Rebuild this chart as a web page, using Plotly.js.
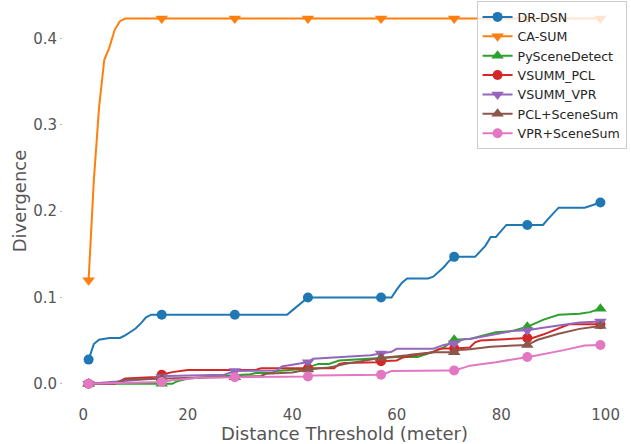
<!DOCTYPE html>
<html>
<head>
<meta charset="utf-8">
<script src="https://cdn.plot.ly/plotly-3.0.1.min.js"></script>
<style>html,body{margin:0;padding:0;background:#fff;}#chart{width:631px;height:444px;}</style>
</head>
<body>
<div id="chart"></div>
<script>
// Marker positions (every 14th threshold)
const markX = [1, 15, 29, 43, 57, 71, 85, 99];

const seriesNames = ["DR-DSN", "CA-SUM", "PySceneDetect", "VSUMM_PCL", "VSUMM_VPR", "PCL+SceneSum", "VPR+SceneSum"];

const drdsnX = [1, 2, 3, 5, 7, 8, 9, 10, 11, 12, 13, 15, 29, 39, 40, 41, 42, 43, 57, 59, 60, 61, 62, 66, 67, 68, 69, 70, 71, 75, 76, 77, 78, 79, 80, 81, 85, 88, 89, 90, 91, 96, 99];
const drdsnY = [0.028, 0.046, 0.051, 0.053, 0.053, 0.056, 0.060, 0.064, 0.070, 0.077, 0.080, 0.080, 0.080, 0.080, 0.085, 0.090, 0.096, 0.100, 0.100, 0.100, 0.109, 0.117, 0.122, 0.122, 0.124, 0.129, 0.135, 0.142, 0.147, 0.147, 0.153, 0.160, 0.170, 0.170, 0.177, 0.184, 0.184, 0.184, 0.191, 0.198, 0.204, 0.204, 0.210];

const casumX = [1, 2, 3, 4, 5, 6, 7, 8, 15, 29, 43, 57, 71, 85, 99];
const casumY = [0.120, 0.235, 0.320, 0.375, 0.390, 0.410, 0.420, 0.423, 0.423, 0.423, 0.423, 0.423, 0.423, 0.423, 0.423];

const pysdX = [1, 15, 17, 18, 20, 29, 32, 33, 36, 37, 42, 43, 45, 47, 49, 57, 60, 64, 66, 69, 70, 71, 74, 76, 79, 82, 85, 88, 91, 95, 97, 99];
const pysdY = [0, 0, 0, 0.003, 0.006, 0.010, 0.011, 0.0124, 0.0124, 0.0147, 0.017, 0.019, 0.023, 0.023, 0.027, 0.030, 0.031, 0.031, 0.035, 0.042, 0.047, 0.051, 0.052, 0.055, 0.0596, 0.061, 0.066, 0.074, 0.080, 0.081, 0.083, 0.087];

const pclX = [1, 6, 8, 14, 15, 17, 20, 33, 34, 43, 48, 49, 50, 56, 57, 60, 61, 62, 67, 68, 69, 71, 74, 75, 76, 85, 86, 87, 88, 93, 99];
const pclY = [0, 0, 0.006, 0.008, 0.0105, 0.0135, 0.016, 0.016, 0.018, 0.018, 0.018, 0.023, 0.024, 0.025, 0.026, 0.027, 0.030, 0.0316, 0.0366, 0.040, 0.041, 0.041, 0.042, 0.048, 0.050, 0.053, 0.053, 0.055, 0.057, 0.069, 0.069];

const vprX = [1, 5, 14, 15, 16, 27, 29, 37, 38, 42, 43, 44, 49, 55, 57, 59, 60, 67, 69, 71, 73, 74, 82, 85, 88, 95, 99];
const vprY = [0, 0.002, 0.006, 0.008, 0.009, 0.0105, 0.0147, 0.0155, 0.020, 0.024, 0.025, 0.029, 0.031, 0.033, 0.035, 0.037, 0.0405, 0.0405, 0.045, 0.047, 0.052, 0.052, 0.061, 0.062, 0.065, 0.071, 0.072];

const pclssX = [1, 6, 8, 15, 20, 29, 34, 35, 40, 42, 43, 47, 48, 50, 52, 56, 57, 62, 63, 67, 71, 72, 74, 78, 85, 86, 87, 91, 95, 99];
const pclssY = [0, 0, 0.005, 0.006, 0.007, 0.0077, 0.009, 0.0116, 0.013, 0.0155, 0.0165, 0.019, 0.020, 0.023, 0.025, 0.029, 0.030, 0.033, 0.034, 0.0366, 0.0366, 0.039, 0.040, 0.043, 0.045, 0.048, 0.051, 0.058, 0.0636, 0.067];

const vprssX = [1, 15, 17, 22, 29, 43, 44, 48, 49, 57, 58, 59, 70, 71, 73, 74, 79, 85, 86, 92, 96, 99];
const vprssY = [0, 0.002, 0.004, 0.007, 0.0077, 0.0085, 0.0097, 0.0097, 0.0105, 0.0105, 0.0125, 0.0147, 0.0155, 0.0155, 0.019, 0.021, 0.025, 0.031, 0.032, 0.039, 0.0443, 0.045];

const xs = [drdsnX, casumX, pysdX, pclX, vprX, pclssX, vprssX];
const ys = [drdsnY, casumY, pysdY, pclY, vprY, pclssY, vprssY];
const colors = ["#1f77b4", "#ff7f0e", "#2ca02c", "#d62728", "#9467bd", "#8c564b", "#e377c2"];
const symbols = ["circle", "triangle-down", "triangle-up", "circle", "triangle-down", "triangle-up", "circle"];
const sizes = [10, 11, 11, 10, 11, 11, 10];

const traces = seriesNames.map((name, i) => {
  const sel = [];
  xs[i].forEach((v, j) => { if (markX.includes(v)) sel.push(j); });
  return {
    type: "scatter",
    mode: "lines+markers",
    name: name,
    x: xs[i],
    y: ys[i],
    line: {color: colors[i], width: 2},
    marker: {color: colors[i], symbol: symbols[i], size: sizes[i], line: {width: 0}},
    selectedpoints: sel,
    selected: {marker: {opacity: 1}},
    unselected: {marker: {opacity: 0}},
    cliponaxis: false
  };
});

const layout = {
  width: 631,
  height: 444,
  margin: {l: 63, r: 5, t: 0, b: 42},
  paper_bgcolor: "#ffffff",
  plot_bgcolor: "#ffffff",
  font: {family: "DejaVu Sans", color: "#555555"},
  showlegend: true,
  hovermode: false,
  xaxis: {
    range: [-3.9, 103.9],
    tickvals: [0, 20, 40, 60, 80, 100],
    ticktext: ["0", "20", "40", "60", "80", "100"],
    showgrid: false, zeroline: false, showline: false,
    ticks: "",
    ticklabelstandoff: 2,
    tickfont: {size: 15, color: "#555555"},
    title: {text: "Distance Threshold (meter)", font: {size: 18, color: "#555555"}, standoff: 4}
  },
  yaxis: {
    range: [-0.0211, 0.4445],
    tickvals: [0, 0.1, 0.2, 0.3, 0.4],
    ticktext: ["0.0", "0.1", "0.2", "0.3", "0.4"],
    showgrid: false, zeroline: false, showline: false,
    ticks: "outside", ticklen: 2, tickwidth: 1, tickcolor: "#bbbbbb",
    tickfont: {size: 15, color: "#555555"},
    title: {text: "Divergence", font: {size: 18, color: "#555555"}, standoff: 1}
  },
  legend: {
    x: 1.001, xanchor: "right", y: 0.997, yanchor: "top",
    bgcolor: "rgba(255,255,255,0.8)",
    bordercolor: "#cccccc", borderwidth: 1,
    font: {size: 12.6, color: "#262626"},
    itemwidth: 30,
    tracegroupgap: 0
  }
};

Plotly.newPlot("chart", traces, layout, {displayModeBar: false, staticPlot: true});
</script>
</body>
</html>
